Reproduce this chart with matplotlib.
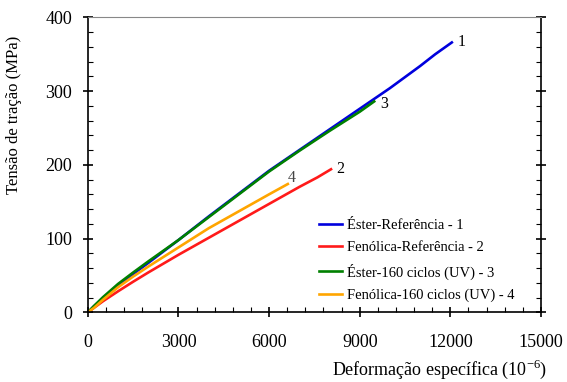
import matplotlib
matplotlib.use("Agg")
import matplotlib.pyplot as plt
from matplotlib.ticker import MultipleLocator

plt.rcParams["font.family"] = ["Liberation Serif", "DejaVu Serif"]
plt.rcParams["mathtext.fontset"] = "custom"
plt.rcParams["mathtext.rm"] = "Liberation Serif"

# strain (10^-6) vs tensile stress (MPa)
ester_ref_x = [0, 200, 500, 1000, 1500, 2000, 3000, 4000, 5000, 6000, 7000, 8000, 9000, 10000, 10600, 11000, 11500, 12050]
ester_ref_y = [0, 8, 19, 37, 52, 67, 98, 130, 161, 192, 220, 248, 276, 304, 322, 334, 350, 366]

fen_ref_x = [0, 200, 500, 1000, 1500, 2000, 3000, 4000, 5000, 6000, 7000, 7600, 8050]
fen_ref_y = [0, 6, 15, 28.5, 41.5, 54, 78, 101, 124, 147, 170, 183, 194]

ester_uv_x = [0, 200, 500, 1000, 1500, 2000, 3000, 4000, 5000, 6000, 7000, 8000, 9000, 9480]
ester_uv_y = [0, 8.5, 20.5, 38.5, 54, 69, 98, 129, 160, 191, 219, 246, 272, 286]

fen_uv_x = [0, 200, 500, 1000, 1500, 2000, 3000, 4000, 5000, 6000, 6620]
fen_uv_y = [0, 6, 17, 34, 48.5, 62, 88, 114, 137, 160, 174]

series = [
    ("Éster-Referência - 1", ester_ref_x, ester_ref_y, "#0000dd"),
    ("Fenólica-Referência - 2", fen_ref_x, fen_ref_y, "#ff1a1a"),
    ("Éster-160 ciclos (UV) - 3", ester_uv_x, ester_uv_y, "#008000"),
    ("Fenólica-160 ciclos (UV) - 4", fen_uv_x, fen_uv_y, "#ffa500"),
]
end_labels = ["1", "2", "3", "4"]
label_offsets = [(4, 0), (4, 0), (4, -2), (0, 4)]

fig = plt.figure(figsize=(5.67, 3.82), dpi=100)
ax = fig.add_axes([0.155, 0.1825, 0.799, 0.772])

for (name, xs, ys, col), lab, off in zip(series, end_labels, label_offsets):
    ax.plot(xs, ys, color=col, lw=1.9, label=name)
    ax.annotate(lab, (xs[-1], ys[-1]), xytext=off, textcoords="offset points",
                ha="left", va="center", fontsize=11.5,
                color="#444444" if lab == "4" else "black")

ax.set_xlim(0, 15000)
ax.set_ylim(0, 400)
ax.xaxis.set_major_locator(MultipleLocator(3000))
ax.xaxis.set_minor_locator(MultipleLocator(600))
ax.yaxis.set_major_locator(MultipleLocator(100))
ax.yaxis.set_minor_locator(MultipleLocator(20))

ax.tick_params(which="major", direction="inout", length=7, width=1.2, labelsize=13)
ax.tick_params(axis="x", which="major", pad=12)
ax.tick_params(axis="y", which="major", pad=8)
ax.tick_params(which="minor", direction="in", length=3.5, width=0.8)
ax.tick_params(axis="y", which="both", right=True)
ax.spines["top"].set_color("#888888")
ax.spines["top"].set_linewidth(0.8)
for s in ("left", "right", "bottom"):
    ax.spines[s].set_linewidth(1.2)

ax.set_ylabel("Tensão de tração (MPa)", fontsize=12)
ax.yaxis.set_label_coords(-0.146, 0.67)
ax.set_xlabel("Deformação específica (10$^{-6}$)", fontsize=13, loc="right")
ax.xaxis.set_label_coords(1.015, -0.155)

ax.legend(loc="lower right", bbox_to_anchor=(0.97, -0.01), frameon=False,
          fontsize=10.5, handlelength=1.6, handletextpad=0.3, labelspacing=0.62)

fig.savefig("out.png", dpi=100)
